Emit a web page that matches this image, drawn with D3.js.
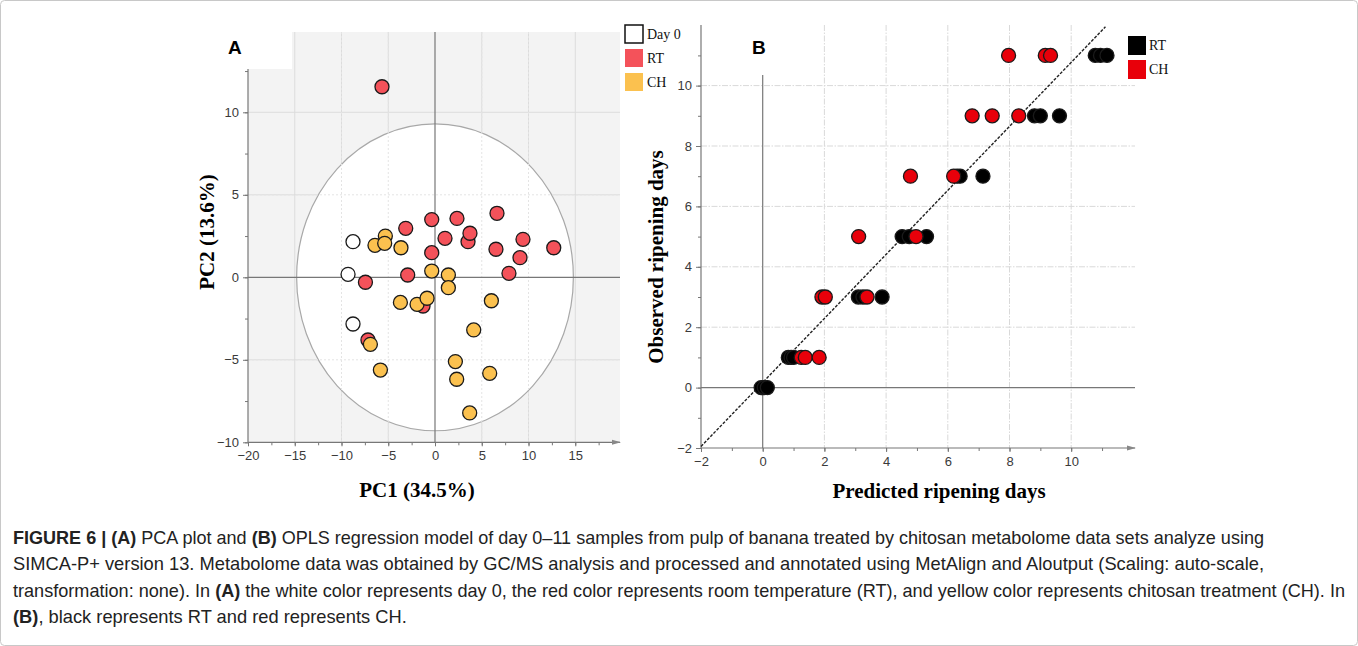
<!DOCTYPE html>
<html>
<head>
<meta charset="utf-8">
<script src="https://cdn.jsdelivr.net/npm/d3@7"></script>
<style>
  body { margin: 0; background: #fff; }
  svg { display: block; }
  .axis text { font-family: "Liberation Sans", Arial, sans-serif; font-size: 13px; fill: #3a3a3a; }
  .axis path, .axis line { stroke: #777; }
</style>
</head>
<body>
<svg width="1358" height="646"></svg>
<script>
// ---- panel A : PCA scores ----
var day0PC1 = [-8.77, -9.3, -8.77];
var day0PC2 = [2.16, 0.18, -2.83];

var rtPC1 = [-5.67, -3.13, -0.35, 2.35, 6.63, 1.07, 3.53, 3.74, 9.41, 6.52, 12.7, 9.09, -0.35, -7.44, -2.92, 7.91, -1.28, -7.17];
var rtPC2 = [11.55, 2.97, 3.5, 3.57, 3.88, 2.36, 2.16, 2.67, 2.30, 1.70, 1.79, 1.19, 1.49, -0.30, 0.14, 0.24, -1.74, -3.80];

var chPC1 = [-6.42, -5.31, -5.38, -3.64, -0.35, 1.43, 1.43, -3.7, -1.92, -0.85, 6.03, 4.14, -6.91, -5.84, 2.18, 2.32, 5.85, 3.71];
var chPC2 = [1.94, 2.50, 2.06, 1.79, 0.38, 0.14, -0.63, -1.52, -1.64, -1.27, -1.42, -3.19, -4.06, -5.62, -5.11, -6.18, -5.82, -8.22];

var pcaXTicks = [-20, -15, -10, -5, 0, 5, 10, 15];
var pcaYTicks = [-10, -5, 0, 5, 10];
var ellipseRadius = [14.8, 9.3]; // Hotelling T2 (95%)

// ---- panel B : OPLS predicted vs observed ----
var rtPredicted = [-0.05, 0.05, 0.15, 0.83, 0.92, 1.0, 3.1, 3.25, 3.87, 4.52, 4.75, 5.31, 6.3, 6.4, 7.14, 8.81, 9.0, 9.62, 10.78, 10.95, 11.16];
var rtObserved  = [0, 0, 0, 1, 1, 1, 3, 3, 3, 5, 5, 5, 7, 7, 7, 9, 9, 9, 11, 11, 11];

var chPredicted = [1.25, 1.38, 1.83, 1.92, 2.03, 3.38, 3.11, 4.97, 4.79, 6.19, 6.79, 7.44, 8.3, 7.97, 9.16, 9.33];
var chObserved  = [1, 1, 1, 3, 3, 3, 5, 5, 7, 7, 9, 9, 9, 11, 11, 11];

var oplsTicks = [-2, 0, 2, 4, 6, 8, 10];
var fitLine = [0.17, 1.06]; // intercept, slope

var caption = [
  [["FIGURE 6 | (A)", true], [" PCA plot and ", false], ["(B)", true], [" OPLS regression model of day 0–11 samples from pulp of banana treated by chitosan metabolome data sets analyze using", false]],
  [["SIMCA-P+ version 13. Metabolome data was obtained by GC/MS analysis and processed and annotated using MetAlign and Aloutput (Scaling: auto-scale,", false]],
  [["transformation: none). In ", false], ["(A)", true], [" the white color represents day 0, the red color represents room temperature (RT), and yellow color represents chitosan treatment (CH). In", false]],
  [["(B)", true], [", black represents RT and red represents CH.", false]]
];
var captionWidths = [1251, 1251, 1332, null];

function main(){
var svg = d3.select("svg");
var serif = "'Liberation Serif', 'Times New Roman', serif";
var sans = "'Liberation Sans', Arial, sans-serif";

svg.append("rect").attr("x", 0.5).attr("y", 0.5).attr("width", 1357).attr("height", 645)
  .attr("rx", 4).attr("fill", "none").attr("stroke", "#c8c8c8");

// ================= Panel A =================
var x = d3.scaleLinear().domain([-20, 20]).range([248, 622]);
var y = d3.scaleLinear().domain([-10, 10]).range([442.3, 112.3]);
var top = 32, right = 620;
var gA = svg.append("g");

gA.append("rect").attr("x", x(-20)).attr("y", top).attr("width", right - x(-20)).attr("height", y(-10) - top)
  .attr("fill", "#f3f3f3");
gA.append("rect").attr("x", x(-20)).attr("y", top).attr("width", 44).attr("height", 37).attr("fill", "#fff");

// grid
gA.selectAll(".gx").data(pcaXTicks.filter(function(d) { return d !== 0 && d !== -20; }))
  .enter().append("line")
    .attr("x1", function(d) { return x(d); }).attr("x2", function(d) { return x(d); })
    .attr("y1", top).attr("y2", y(-10))
    .attr("stroke", "#dcdcdc");
gA.selectAll(".gy").data([5, 10, -5])
  .enter().append("line")
    .attr("x1", x(-20)).attr("x2", right)
    .attr("y1", function(d) { return y(d); }).attr("y2", function(d) { return y(d); })
    .attr("stroke", "#dcdcdc");

gA.append("ellipse")
  .attr("cx", x(0)).attr("cy", y(0))
  .attr("rx", x(ellipseRadius[0]) - x(0)).attr("ry", y(0) - y(ellipseRadius[1]))
  .attr("fill", "#fff").attr("stroke", "#a8a8a8").attr("stroke-width", 1.2);

// grid lines inside the ellipse, dotted
gA.selectAll(".gxi").data([-10, -5, 5, 10])
  .enter().append("line")
    .attr("x1", function(d) { return x(d); }).attr("x2", function(d) { return x(d); })
    .attr("y1", top).attr("y2", y(-10))
    .attr("stroke", "#e4e4e4").attr("stroke-dasharray", "2,2");
gA.selectAll(".gyi").data([5, -5])
  .enter().append("line")
    .attr("x1", x(-20)).attr("x2", right)
    .attr("y1", function(d) { return y(d); }).attr("y2", function(d) { return y(d); })
    .attr("stroke", "#e4e4e4").attr("stroke-dasharray", "2,2");

// zero lines
gA.append("line").attr("x1", x(0)).attr("x2", x(0)).attr("y1", top).attr("y2", y(-10)).attr("stroke", "#777").attr("stroke-width", 1.2);
gA.append("line").attr("x1", x(-20)).attr("x2", right).attr("y1", y(0)).attr("y2", y(0)).attr("stroke", "#777").attr("stroke-width", 1.2);

// axes
var minorX = d3.range(-20, 20, 2.5);
var minorY = d3.range(-10, 14, 2.5);
gA.append("g").attr("class", "axis").attr("transform", "translate(0," + y(-10) + ")")
  .call(d3.axisBottom(x).tickValues(minorX).tickSize(3).tickFormat(""))
  .select(".domain").remove();
gA.append("g").attr("class", "axis").attr("transform", "translate(0," + y(-10) + ")")
  .call(d3.axisBottom(x).tickValues(pcaXTicks).tickSize(4).tickPadding(4).tickFormat(d3.format("d")))
  .select(".domain").remove();
gA.append("line").attr("x1", x(-20)).attr("x2", right).attr("y1", y(-10)).attr("y2", y(-10)).attr("stroke", "#777").attr("stroke-width", 1.2);
gA.append("path").attr("d", "M" + (right + 1) + "," + y(-10) + "l-9,-2.5v5z").attr("fill", "#888");

gA.append("g").attr("class", "axis").attr("transform", "translate(" + x(-20) + ",0)")
  .call(d3.axisLeft(y).tickValues(minorY).tickSize(3).tickFormat(""))
  .select(".domain").remove();
gA.append("g").attr("class", "axis").attr("transform", "translate(" + x(-20) + ",0)")
  .call(d3.axisLeft(y).tickValues(pcaYTicks).tickSize(5).tickPadding(4).tickFormat(d3.format("d")))
  .select(".domain").remove();
gA.append("line").attr("x1", x(-20)).attr("x2", x(-20)).attr("y1", 69).attr("y2", y(-10)).attr("stroke", "#777").attr("stroke-width", 1.2);

// points
function dots(g, xs, ys, sx, sy, fill) {
  g.append("g").selectAll("circle").data(xs)
    .enter().append("circle")
      .attr("cx", function(d) { return sx(d); })
      .attr("cy", function(d, i) { return sy(ys[i]); })
      .attr("r", 7)
      .attr("fill", fill)
      .attr("stroke", "#1a1a1a")
      .attr("stroke-width", 1.3);
}
dots(gA, day0PC1, day0PC2, x, y, "#ffffff");
dots(gA, rtPC1, rtPC2, x, y, "#f4525a");
dots(gA, chPC1, chPC2, x, y, "#fbc14f");

gA.append("text").attr("x", 228).attr("y", 54).attr("font-family", sans).attr("font-weight", "bold")
  .attr("font-size", 19).text("A");

gA.append("text").attr("x", 417).attr("y", 497).attr("text-anchor", "middle")
  .attr("font-family", serif).attr("font-weight", "bold").attr("font-size", 21)
  .text("PC1 (34.5%)");
gA.append("text").attr("transform", "translate(214,232) rotate(-90)").attr("text-anchor", "middle")
  .attr("font-family", serif).attr("font-weight", "bold").attr("font-size", 21)
  .text("PC2 (13.6%)");

// legend A
var legA = [["Day 0", "#ffffff"], ["RT", "#f4525a"], ["CH", "#fbc14f"]];
var lA = gA.append("g").selectAll("g").data(legA).enter().append("g")
  .attr("transform", function(d, i) { return "translate(625," + (25 + i * 24) + ")"; });
lA.append("rect").attr("width", 18).attr("height", 18)
  .attr("fill", function(d) { return d[1]; })
  .attr("stroke", function(d, i) { return i === 0 ? "#111" : "none"; })
  .attr("stroke-width", 1.5);
lA.append("text").attr("x", 22).attr("y", 14).attr("font-family", serif).attr("font-size", 14)
  .attr("fill", "#111").text(function(d) { return d[0]; });

// ================= Panel B =================
var bx = d3.scaleLinear().domain([-2, 12]).range([701, 1132.9]);
var by = d3.scaleLinear().domain([-2, 12]).range([448, 25.2]);
var gB = svg.append("g");
var bRight = 1135, bTop = 25;

gB.selectAll(".bgx").data([2, 4, 6, 8, 10]).enter().append("line")
  .attr("x1", function(d) { return bx(d); }).attr("x2", function(d) { return bx(d); })
  .attr("y1", bTop).attr("y2", by(-2))
  .attr("stroke", "#d9d9d9").attr("stroke-dasharray", "6,1.5,1.5,1.5");
gB.selectAll(".bgy").data([2, 4, 6, 8, 10]).enter().append("line")
  .attr("x1", bx(-2)).attr("x2", bRight)
  .attr("y1", function(d) { return by(d); }).attr("y2", function(d) { return by(d); })
  .attr("stroke", "#d9d9d9").attr("stroke-dasharray", "6,1.5,1.5,1.5");

gB.append("line").attr("x1", bx(0)).attr("x2", bx(0)).attr("y1", by(-2)).attr("y2", by(10.35)).attr("stroke", "#777").attr("stroke-width", 1.2);
gB.append("line").attr("x1", bx(-2)).attr("x2", bRight).attr("y1", by(0)).attr("y2", by(0)).attr("stroke", "#777").attr("stroke-width", 1.2);

var minorB = d3.range(-2, 12, 1);
gB.append("g").attr("class", "axis").attr("transform", "translate(0," + by(-2) + ")")
  .call(d3.axisBottom(bx).tickValues(minorB).tickSize(3).tickFormat(""))
  .select(".domain").remove();
gB.append("g").attr("class", "axis").attr("transform", "translate(0," + by(-2) + ")")
  .call(d3.axisBottom(bx).tickValues(oplsTicks).tickSize(4).tickPadding(5).tickFormat(d3.format("d")))
  .select(".domain").remove();
gB.append("line").attr("x1", bx(-2)).attr("x2", bRight).attr("y1", by(-2)).attr("y2", by(-2)).attr("stroke", "#777").attr("stroke-width", 1.2);
gB.append("path").attr("d", "M" + (bRight + 1) + "," + by(-2) + "l-9,-2.5v5z").attr("fill", "#888");

gB.append("g").attr("class", "axis").attr("transform", "translate(" + bx(-2) + ",0)")
  .call(d3.axisLeft(by).tickValues(minorB).tickSize(3).tickFormat(""))
  .select(".domain").remove();
gB.append("g").attr("class", "axis").attr("transform", "translate(" + bx(-2) + ",0)")
  .call(d3.axisLeft(by).tickValues(oplsTicks).tickSize(5).tickPadding(4).tickFormat(d3.format("d")))
  .select(".domain").remove();
gB.append("line").attr("x1", bx(-2)).attr("x2", bx(-2)).attr("y1", bTop).attr("y2", by(-2)).attr("stroke", "#777").attr("stroke-width", 1.2);

// regression line
var xEnd = (12 - fitLine[0]) / fitLine[1];
gB.append("line")
  .attr("x1", bx(-2)).attr("y1", by(fitLine[0] + fitLine[1] * -2))
  .attr("x2", bx(xEnd - 0.05)).attr("y2", by(fitLine[0] + fitLine[1] * (xEnd - 0.05)))
  .attr("stroke", "#222").attr("stroke-width", 1.4).attr("stroke-dasharray", "3,1.5");

dots(gB, rtPredicted, rtObserved, bx, by, "#000000");
dots(gB, chPredicted, chObserved, bx, by, "#e8000a");

gB.append("text").attr("x", 752).attr("y", 54).attr("font-family", sans).attr("font-weight", "bold")
  .attr("font-size", 19).text("B");

gB.append("text").attr("x", 939).attr("y", 498).attr("text-anchor", "middle")
  .attr("font-family", serif).attr("font-weight", "bold").attr("font-size", 21)
  .text("Predicted ripening days");
gB.append("text").attr("transform", "translate(663,257) rotate(-90)").attr("text-anchor", "middle")
  .attr("font-family", serif).attr("font-weight", "bold").attr("font-size", 21)
  .text("Observed ripening days");

var legB = [["RT", "#000000"], ["CH", "#e8000a"]];
var lB = gB.append("g").selectAll("g").data(legB).enter().append("g")
  .attr("transform", function(d, i) { return "translate(1128," + (36 + i * 24) + ")"; });
lB.append("rect").attr("width", 18).attr("height", 19).attr("fill", function(d) { return d[1]; });
lB.append("text").attr("x", 21).attr("y", 14).attr("font-family", serif).attr("font-size", 14)
  .attr("fill", "#111").text(function(d) { return d[0]; });

// ================= caption =================
var cap = svg.append("g")
  .attr("font-family", "'Liberation Sans', Arial, sans-serif")
  .attr("font-size", 18.5).attr("fill", "#222");
var lines = caption.map(function(line, i) {
  var t = cap.append("text").attr("x", 13).attr("y", 544 + i * 26.3);
  line.forEach(function(part) {
    t.append("tspan").attr("font-weight", part[1] ? "bold" : "normal").text(part[0]);
  });
  return t;
});
// squeeze to the condensed width of the printed caption
var squeeze = captionWidths[1] / lines[1].node().getComputedTextLength();
lines.forEach(function(t, i) {
  var w = captionWidths[i] || t.node().getComputedTextLength() * squeeze;
  t.attr("textLength", w).attr("lengthAdjust", "spacingAndGlyphs");
});
}
main()
</script>
</body>
</html>
